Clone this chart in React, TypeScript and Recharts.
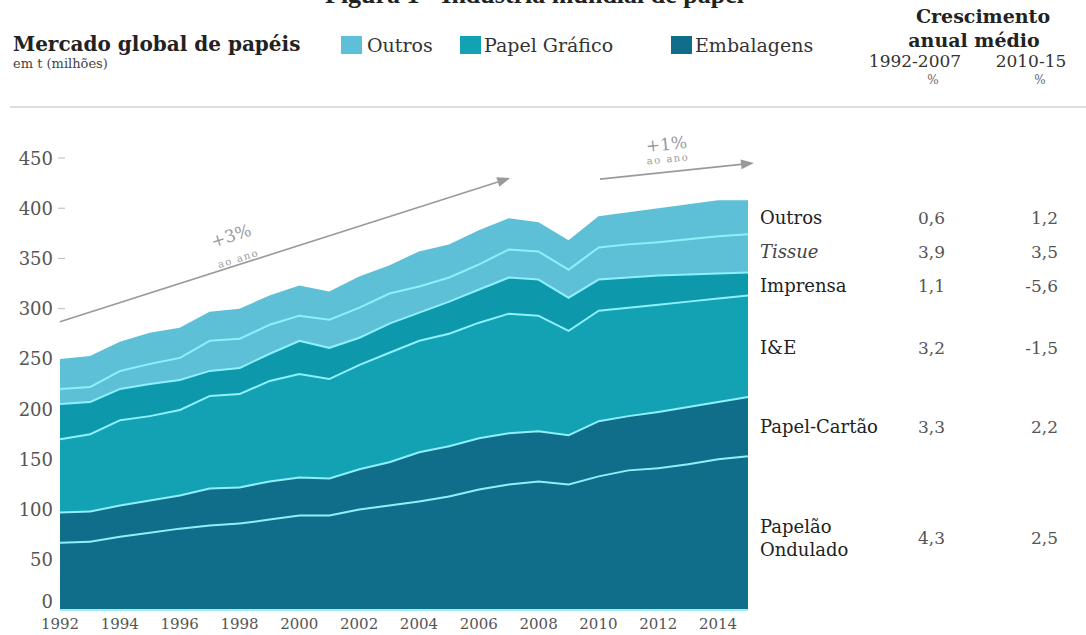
import React from "react";
import { AreaChart, Area, XAxis, YAxis, ReferenceLine } from "recharts";

// milhões de t, camadas empilhadas de baixo para cima
const years = [
  1992, 1993, 1994, 1995, 1996, 1997, 1998, 1999, 2000, 2001, 2002, 2003,
  2004, 2005, 2006, 2007, 2008, 2009, 2010, 2011, 2012, 2013, 2014, 2015,
];
const papelaoOndulado = [68, 69, 74, 78, 82, 85, 87, 91, 95, 95, 101, 105, 109, 114, 121, 126, 129, 126, 134, 140, 142, 146, 151, 154];
const papelCartao = [30, 30, 31, 32, 33, 37, 36, 38, 38, 37, 40, 43, 49, 50, 51, 51, 50, 49, 55, 54, 56, 57, 57, 59];
const impressaoEscrita = [73, 77, 85, 84, 85, 92, 93, 100, 103, 99, 104, 109, 111, 112, 115, 119, 115, 104, 110, 108, 107, 105, 103, 101];
const imprensa = [35, 32, 31, 32, 30, 25, 26, 27, 33, 31, 27, 29, 28, 32, 33, 36, 36, 33, 31, 30, 29, 27, 25, 23];
const tissue = [15, 15, 18, 20, 22, 30, 29, 29, 25, 28, 30, 30, 26, 24, 25, 28, 28, 28, 32, 33, 33, 35, 37, 38];
const outros = [29, 30, 28, 30, 29, 28, 29, 28, 29, 27, 30, 27, 34, 32, 33, 30, 28, 28, 30, 31, 33, 34, 35, 33];

const yTicks = [0, 50, 100, 150, 200, 250, 300, 350, 400, 450];
const xTicks = [1992, 1994, 1996, 1998, 2000, 2002, 2004, 2006, 2008, 2010, 2012, 2014];

// tabela de crescimento anual médio (%)
const rowLabels = ["Outros", "Tissue", "Imprensa", "I&E", "Papel-Cartão", "Papelão\nOndulado"];
const growth9207 = ["0,6", "3,9", "1,1", "3,2", "3,3", "4,3"];
const growth1015 = ["1,2", "3,5", "-5,6", "-1,5", "2,2", "2,5"];
const rowY = [218, 252, 286, 348, 427, 538];

const FONT = "'DejaVu Serif', 'Liberation Serif', serif";
const C_EMB = "#116e8b";
const C_GRAF = "#13a2b4";
const C_GRAF2 = "#0e98ab";
const C_OUT = "#5ec0d7";
const C_LINE = "#8ff0fd";
const C_ARROW = "#9a9a9a";

const data = years.map((year, i) => ({
  year,
  papelaoOndulado: papelaoOndulado[i],
  papelCartao: papelCartao[i],
  impressaoEscrita: impressaoEscrita[i],
  imprensa: imprensa[i],
  tissue: tissue[i],
  outros: outros[i],
}));

const YTick = ({ x, y, payload }: any) => (
  <g>
    <text
      x={x - 7}
      y={payload.value === 0 ? y - 9 : y}
      textAnchor="end"
      dominantBaseline="central"
      fill="#555"
      fontSize={18}
      fontFamily={FONT}
    >
      {payload.value}
    </text>
    {payload.value >= 300 && (
      <line x1={x - 2} x2={x + 5} y1={y} y2={y} stroke="#bbb" />
    )}
  </g>
);

const XTick = ({ x, y, payload }: any) => (
  <text
    x={x}
    y={y + 14}
    textAnchor="middle"
    dominantBaseline="central"
    fill="#555"
    fontSize={15}
    fontFamily={FONT}
  >
    {payload.value}
  </text>
);

const arrowShape =
  (big: string, small: string, t: number, bigOff: number, smallOff: number) =>
  (props: any) => {
    const { x1, y1, x2, y2 } = props;
    const ang = Math.atan2(y2 - y1, x2 - x1);
    const deg = (ang * 180) / Math.PI;
    const cx = Math.cos(ang);
    const sy = Math.sin(ang);
    const px = x1 + (x2 - x1) * t;
    const py = y1 + (y2 - y1) * t;
    const bx = x2 - 13 * cx;
    const by = y2 - 13 * sy;
    const pts = `${x2},${y2} ${bx - 5 * sy},${by + 5 * cx} ${bx + 5 * sy},${by - 5 * cx}`;
    return (
      <g>
        <line x1={x1} y1={y1} x2={bx} y2={by} stroke={C_ARROW} strokeWidth={1.6} />
        <polygon points={pts} fill={C_ARROW} />
        <g transform={`translate(${px},${py}) rotate(${deg})`}>
          <text
            y={-bigOff}
            textAnchor="middle"
            dominantBaseline="central"
            fill={C_ARROW}
            fontSize={17}
            fontFamily={FONT}
          >
            {big}
          </text>
          <text
            y={-smallOff}
            textAnchor="middle"
            dominantBaseline="central"
            fill={C_ARROW}
            fontSize={10}
            letterSpacing={1.5}
            fontFamily={FONT}
          >
            {small}
          </text>
        </g>
      </g>
    );
  };

const abs = (left: number, cy: number, size: number, extra: any = {}) => ({
  position: "absolute" as const,
  left,
  top: cy - size * 0.65,
  fontSize: size,
  lineHeight: `${size * 1.3}px`,
  fontFamily: FONT,
  whiteSpace: "nowrap" as const,
  ...extra,
});

const centered = (cx: number, cy: number, size: number, extra: any = {}) => ({
  ...abs(cx - 100, cy, size, extra),
  width: 200,
  textAlign: "center" as const,
});

export default function App() {
  const legend = [
    { label: "Outros", color: C_OUT, sq: 341, tx: 367 },
    { label: "Papel Gráfico", color: C_GRAF, sq: 460, tx: 484 },
    { label: "Embalagens", color: C_EMB, sq: 671, tx: 695 },
  ];
  return (
    <div
      style={{
        position: "absolute",
        left: 0,
        top: 0,
        width: 1086,
        height: 635,
        background: "#fff",
        overflow: "hidden",
        color: "#222",
      }}
    >
      {/* título cortado no topo, como na imagem original */}
      <div style={{ position: "absolute", left: 0, top: 0, width: 1086, height: 9, overflow: "hidden" }}>
        <span
          style={{
            position: "absolute",
            left: 325,
            top: -18,
            fontSize: 26,
            lineHeight: "26px",
            fontWeight: "bold",
            fontFamily: "'Liberation Serif', serif",
            whiteSpace: "nowrap",
          }}
        >
          Figura 1 - Indústria mundial de papel
        </span>
      </div>

      <div style={abs(13, 44, 20, { fontWeight: "bold", color: "#222" })}>Mercado global de papéis</div>
      <div style={abs(13, 64, 13, { color: "#444" })}>em t (milhões)</div>

      {legend.map((l) => (
        <React.Fragment key={l.label}>
          <div style={{ position: "absolute", left: l.sq, top: 36, width: 21, height: 18, background: l.color }} />
          <div style={abs(l.tx, 45, 19, { color: "#333" })}>{l.label}</div>
        </React.Fragment>
      ))}

      <div style={centered(983, 16, 19, { fontWeight: "bold" })}>Crescimento</div>
      <div style={centered(974, 40, 19, { fontWeight: "bold" })}>anual médio</div>
      <div style={centered(915, 61, 17, { color: "#333" })}>1992-2007</div>
      <div style={centered(1031, 61, 17, { color: "#333" })}>2010-15</div>
      <div style={centered(933, 81, 12, { color: "#666" })}>%</div>
      <div style={centered(1040, 81, 12, { color: "#666" })}>%</div>
      <div style={{ position: "absolute", left: 10, top: 106, width: 1076, height: 2, background: "#dedede" }} />

      {rowLabels.map((lab, i) => (
        <React.Fragment key={lab}>
          {lab.split("\n").map((part, j, arr) => (
            <div
              key={part}
              style={abs(760, rowY[i] + (j - (arr.length - 1) / 2) * 23, 18, {
                fontStyle: lab === "Tissue" ? "italic" : "normal",
                color: lab === "Tissue" ? "#444" : "#222",
              })}
            >
              {part}
            </div>
          ))}
          <div style={abs(918, rowY[i], 17, { color: "#555" })}>{growth9207[i]}</div>
          <div style={{ ...abs(958, rowY[i], 17, { color: "#555" }), width: 100, textAlign: "right" }}>
            {growth1015[i]}
          </div>
        </React.Fragment>
      ))}

      <div style={{ position: "absolute", left: 0, top: 0 }}>
        <AreaChart
          width={1086}
          height={635}
          data={data}
          margin={{ top: 158, right: 338, bottom: 0, left: 0 }}
        >
          <XAxis
            dataKey="year"
            type="number"
            domain={[1992, 2015]}
            ticks={xTicks}
            interval={0}
            height={25}
            tickSize={0}
            tickMargin={0}
            tickLine={false}
            axisLine={{ stroke: "#a6ecf6", strokeWidth: 2 }}
            tick={<XTick />}
          />
          <YAxis
            type="number"
            domain={[0, 450]}
            ticks={yTicks}
            interval={0}
            width={60}
            tickSize={0}
            tickMargin={0}
            axisLine={false}
            tickLine={false}
            tick={<YTick />}
          />
          <Area dataKey="papelaoOndulado" stackId="a" type="linear" fill={C_EMB} fillOpacity={1} stroke={C_LINE} strokeWidth={4} isAnimationActive={false} />
          <Area dataKey="papelCartao" stackId="a" type="linear" fill={C_EMB} fillOpacity={1} stroke={C_LINE} strokeWidth={4} isAnimationActive={false} />
          <Area dataKey="impressaoEscrita" stackId="a" type="linear" fill={C_GRAF} fillOpacity={1} stroke={C_LINE} strokeWidth={4} isAnimationActive={false} />
          <Area dataKey="imprensa" stackId="a" type="linear" fill={C_GRAF2} fillOpacity={1} stroke={C_LINE} strokeWidth={4} isAnimationActive={false} />
          <Area dataKey="tissue" stackId="a" type="linear" fill={C_OUT} fillOpacity={1} stroke={C_LINE} strokeWidth={4} isAnimationActive={false} />
          <Area dataKey="outros" stackId="a" type="linear" fill={C_OUT} fillOpacity={1} stroke="none" isAnimationActive={false} />
          <ReferenceLine
            segment={[{ x: 1992, y: 287 }, { x: 2007.05, y: 430 }]}
            ifOverflow="visible"
            shape={arrowShape("+3%", "ao ano", 0.4, 30, 6)}
          />
          <ReferenceLine
            segment={[{ x: 2010.05, y: 429 }, { x: 2015.2, y: 445 }]}
            ifOverflow="visible"
            shape={arrowShape("+1%", "ao ano", 0.45, 28, 13)}
          />
        </AreaChart>
      </div>
    </div>
  );
}
